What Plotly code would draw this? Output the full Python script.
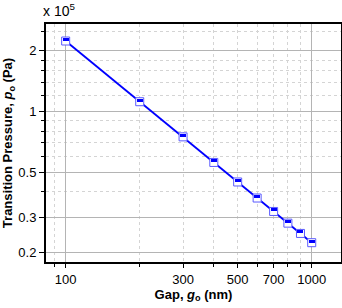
import math
import plotly.graph_objects as go

# Data
gap_nm = [100, 200, 300, 400, 500, 600, 700, 800, 900, 1000]
pressure_pa = [224000, 112000, 75000, 56000, 44800, 37300, 32000, 28000, 24900, 22400]

x_tickvals = [100, 300, 500, 700, 1000]
x_ticktext = ["100", "300", "500", "700", "1000"]
x_minor = [90, 200, 400, 600, 800, 900]
x_major_grid = [100, 1000]

y_tickvals = [20000, 30000, 50000, 100000, 200000]
y_ticktext = ["0.2", "0.3", "0.5", "1", "2"]
y_minor = [40000, 60000, 70000, 80000, 90000, 120000, 140000, 160000, 180000, 250000]

FONT = "Liberation Sans, Arial, sans-serif"
BLUE = "#0000ff"

fig = go.Figure()
fig.add_trace(go.Scatter(
    x=gap_nm, y=pressure_pa, mode="lines+markers",
    line=dict(color=BLUE, width=1.8),
    marker=dict(symbol="square", size=8, color="white",
                line=dict(color="#5a5aff", width=1)),
    showlegend=False, hoverinfo="skip",
))
# overlay axis only for solid decade gridlines
fig.add_trace(go.Scatter(x=gap_nm, y=pressure_pa, xaxis="x2", mode="none",
                         showlegend=False, hoverinfo="skip"))

# half-filled marker tops: small filled boxes placed on each data point
for g, p in zip(gap_nm, pressure_pa):
    fig.add_annotation(x=math.log10(g), y=math.log10(p), xref="x", yref="y",
                       text=" ", showarrow=False, width=6, height=3,
                       bgcolor=BLUE, borderpad=0, borderwidth=0,
                       yanchor="bottom", xanchor="center", font=dict(size=1))

fig.add_annotation(x=-0.018, y=1.0, xref="paper", yref="paper",
                   text="x 10<sup>5</sup>", showarrow=False,
                   xanchor="left", yanchor="bottom", yshift=3,
                   font=dict(family=FONT, size=14, color="black"))

xrange = [math.log10(83.2), math.log10(1315)]
yrange = [math.log10(17970), math.log10(272000)]

fig.update_layout(
    width=342, height=308,
    margin=dict(l=46, r=1, t=24, b=46),
    paper_bgcolor="white", plot_bgcolor="white",
    font=dict(family=FONT, size=13, color="black"),
    xaxis=dict(
        type="log", range=xrange, automargin=False,
        tickmode="array", tickvals=x_tickvals, ticktext=x_ticktext,
        ticks="outside", ticklen=4, tickwidth=1.2, tickcolor="black",
        showgrid=True, gridcolor="#d4d4d4", griddash="dot", gridwidth=1,
        minor=dict(tickmode="array", tickvals=x_minor, ticks="outside", ticklen=3,
                   tickcolor="black", showgrid=True, gridcolor="#d4d4d4", griddash="dot"),
        showline=True, linecolor="black", linewidth=2, mirror=True,
        zeroline=False,
        title=dict(text="<b>Gap, <i>g</i><sub>o</sub> (nm)</b>", standoff=4,
                   font=dict(family=FONT, size=13)),
    ),
    xaxis2=dict(
        type="log", range=xrange, overlaying="x", automargin=False,
        tickmode="array", tickvals=x_major_grid, showticklabels=False, ticks="",
        showgrid=True, gridcolor="#b4b4b4", gridwidth=1, showline=False, zeroline=False,
    ),
    yaxis=dict(
        type="log", range=yrange, automargin=False,
        tickmode="array", tickvals=y_tickvals, ticktext=y_ticktext,
        ticks="outside", ticklen=5, tickwidth=1.2, tickcolor="black",
        showgrid=True, gridcolor="#b4b4b4", gridwidth=1,
        minor=dict(tickmode="array", tickvals=y_minor, ticks="outside", ticklen=3,
                   tickcolor="black", showgrid=True, gridcolor="#d4d4d4", griddash="dot"),
        showline=True, linecolor="black", linewidth=2, mirror=True,
        zeroline=False,
        title=dict(text="<b>Transition Pressure, <i>p</i><sub>o</sub> (Pa)</b>", standoff=6,
                   font=dict(family=FONT, size=13)),
    ),
)

fig.write_html("out.html", config={"displayModeBar": False},
               post_script="document.body.style.margin='0';document.body.style.overflow='hidden';")
